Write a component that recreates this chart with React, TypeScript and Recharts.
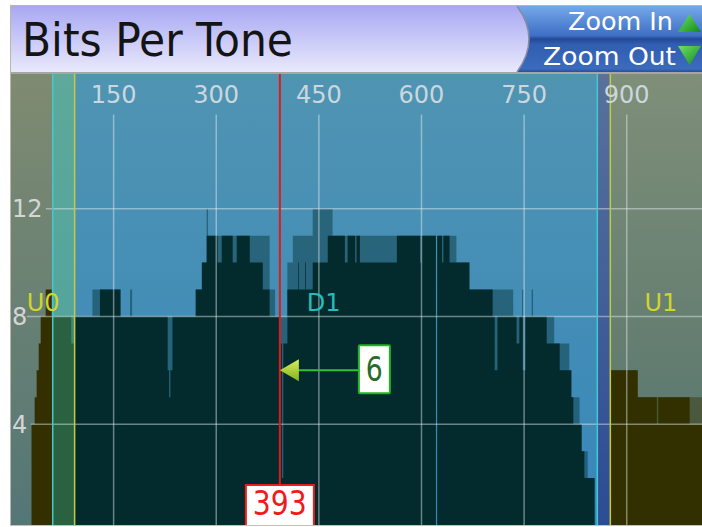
import React from 'react';
import {
  Area,
  ComposedChart,
  ReferenceArea,
  ReferenceDot,
  ReferenceLine,
  XAxis,
  YAxis,
} from 'recharts';

// tone axis / bit axis
const toneTicks = [150, 300, 450, 600, 750, 900];
const bitTicks = [4, 8, 12];

// each entry: [first tone of the step, bits]
const d1Bits: [number, number][] = [
  [61, 8], [88, 7], [93, 8], [130, 9], [160, 8], [229, 6], [231, 5], [233, 6], [236, 8],
  [270, 9], [279, 10], [286, 11], [302, 10], [308, 11], [324, 10], [330, 11], [349, 10],
  [368, 9], [378, 8], [393, 6], [394, 7], [396, 2], [398, 7], [404, 9], [420, 10], [421, 9],
  [430, 10], [431, 9], [441, 10], [463, 11], [488, 10], [492, 11], [503, 10], [505, 11],
  [510, 10], [564, 11], [598, 10], [600, 11], [621, 0], [623, 11], [630, 10], [632, 11],
  [641, 10], [670, 9], [704, 8], [707, 6], [711, 8], [739, 7], [743, 8], [748, 6], [752, 8],
  [783, 7], [802, 6], [819, 5], [822, 4], [834, 3], [838, 2], [853, 0], [857, 0],
];

const d1MaxBits: [number, number][] = [
  [61, 8], [119, 9], [160, 8], [174, 9], [177, 8], [270, 9], [279, 10], [286, 12], [288, 11],
  [378, 9], [386, 8], [404, 10], [412, 11], [441, 12], [470, 11], [621, 0], [623, 11],
  [651, 10], [670, 9], [734, 8], [747, 9], [749, 8], [761, 9], [763, 8], [794, 7], [816, 6],
  [819, 5], [831, 4], [834, 3], [843, 2], [853, 0], [857, 0],
];

const u0Bits: [number, number][] = [
  [30, 4], [34.6, 5], [37.5, 6], [40.5, 7], [43.4, 8], [50.7, 9], [59.5, 8], [61, 8],
];

const u1Bits: [number, number][] = [
  [876, 6], [916, 5], [944, 4], [946, 5], [992, 4], [1010, 4],
];

const u1MaxBits: [number, number][] = [[876, 6], [916, 5], [1010, 5]];

// band edges (tones)
const bandNames = ['U0', 'D1', 'U1'];
const bandLabelTone = [47, 457, 950];
const u0Band = [0, 93];
const d1Band = [61, 857];
const u1Band = [876, 1010];

const cursorTone = 393;
const cursorBits = 6;

const TONE_MAX = 1010;
const BIT_MAX = 17;
const PLOT_W = 691;
const PLOT_H = 458;

const toPoints = (steps: [number, number][]) => steps.map(([tone, bits]) => ({ tone, bits }));

const FONT = '"DejaVu Sans", sans-serif';
const gridStroke = 'rgba(232,240,244,0.45)';

function ToneTick(props: any) {
  const { x, payload } = props;
  return (
    <text x={x} y={29} textAnchor="middle" fontSize={24} fill="#cbd7de" fontFamily={FONT}>
      {payload.value}
    </text>
  );
}

function BitTick(props: any) {
  const { y, payload } = props;
  return (
    <text x={1} y={y} dy="0.36em" textAnchor="start" fontSize={24} fill="#d4d6d6" fontFamily={FONT}>
      {payload.value}
    </text>
  );
}

function BandLabel(props: any) {
  const { cx, cy, name } = props;
  const fill = name === 'D1' ? '#26bcbc' : '#d2d42c';
  return (
    <text x={cx} y={cy} textAnchor="middle" fontSize={24} fill={fill} fontFamily={FONT}>
      {name}
    </text>
  );
}

function BitsMarker(props: any) {
  const { cx, cy } = props;
  return (
    <g>
      <line x1={cx + 16} y1={cy} x2={cx + 80} y2={cy} stroke="#33c233" strokeWidth={2} />
      <polygon
        points={`${cx},${cy} ${cx + 19},${cy - 11} ${cx + 19},${cy + 11}`}
        fill="url(#arrowGrad)"
      />
      <rect x={cx + 79} y={cy - 25} width={31} height={48} fill="#fff" stroke="#22b322" strokeWidth={2} rx={1} />
      <text
        x={cx + 94.5}
        y={cy + 11}
        textAnchor="middle"
        fontSize={33}
        fill="#2b6a2b"
        fontFamily={FONT}
        textLength={17}
        lengthAdjust="spacingAndGlyphs"
      >
        {cursorBits}
      </text>
    </g>
  );
}

function CursorTag(props: any) {
  const { cx, cy } = props;
  return (
    <g>
      <rect x={cx - 34} y={cy - 47} width={68} height={70} fill="#fff" stroke="#e8201c" strokeWidth={2} />
      <text
        x={cx}
        y={cy - 17}
        textAnchor="middle"
        fontSize={34}
        fill="#f01a1a"
        fontFamily={FONT}
        textLength={54}
        lengthAdjust="spacingAndGlyphs"
      >
        {cursorTone}
      </text>
    </g>
  );
}

function Header() {
  return (
    <svg width={702} height={74} style={{ position: 'absolute', left: 0, top: 0 }}>
      <defs>
        <linearGradient id="lavGrad" x1="0" y1="0" x2="0" y2="1">
          <stop offset="0" stopColor="#a8a8f3" />
          <stop offset="1" stopColor="#e9e9fc" />
        </linearGradient>
        <linearGradient id="btnGrad" x1="0" y1="0" x2="0" y2="1">
          <stop offset="0" stopColor="#74a8e8" />
          <stop offset="0.45" stopColor="#3e6fc5" />
          <stop offset="0.5" stopColor="#244896" />
          <stop offset="0.58" stopColor="#305eb0" />
          <stop offset="0.95" stopColor="#3b6bbd" />
          <stop offset="1" stopColor="#2a4f98" />
        </linearGradient>
        <linearGradient id="triGrad" x1="0" y1="0" x2="1" y2="1">
          <stop offset="0" stopColor="#6fe06a" />
          <stop offset="1" stopColor="#128a18" />
        </linearGradient>
      </defs>
      <rect x={10} y={5} width={692} height={69} fill="#a6a6a6" />
      <rect x={505} y={6} width={197} height={66} fill="url(#btnGrad)" />
      <path d="M11 6 H517 Q541 39 517 72 H11 Z" fill="url(#lavGrad)" />
      <path d="M517 6 Q541 39 517 72" fill="none" stroke="#8a8aa6" strokeWidth={1.5} />
      <text
        x={22}
        y={56}
        fontSize={46}
        fill="#141414"
        fontFamily='"DejaVu Sans Condensed", "DejaVu Sans", sans-serif'
        textLength={271}
        lengthAdjust="spacingAndGlyphs"
      >
        Bits Per Tone
      </text>
      <text
        x={568}
        y={30}
        fontSize={25}
        fill="#fff"
        fontFamily={FONT}
        textLength={105}
        lengthAdjust="spacingAndGlyphs"
      >
        Zoom In
      </text>
      <text
        x={543}
        y={65}
        fontSize={25}
        fill="#fff"
        fontFamily={FONT}
        textLength={133}
        lengthAdjust="spacingAndGlyphs"
      >
        Zoom Out
      </text>
      <polygon points="678,32 701,32 689.5,14" fill="url(#triGrad)" />
      <polygon points="678,46 701,46 689.5,65" fill="url(#triGrad)" />
    </svg>
  );
}

export default function App() {
  return (
    <div
      style={{
        position: 'absolute',
        left: 0,
        top: 0,
        width: 702,
        height: 527,
        background: '#fff',
        overflow: 'hidden',
        fontFamily: FONT,
      }}
    >
      <div style={{ position: 'absolute', left: 11, top: 74, width: PLOT_W, height: 451, overflow: 'hidden' }}>
        <ComposedChart width={PLOT_W} height={PLOT_H} margin={{ top: 0, right: 0, bottom: 0, left: 0 }}>
          <defs>
            <linearGradient id="u0Bg" x1="0" y1="0" x2="0" y2="1">
              <stop offset="0" stopColor="#7f8b71" />
              <stop offset="1" stopColor="#537676" />
            </linearGradient>
            <linearGradient id="d1Bg" x1="0" y1="0" x2="0" y2="1">
              <stop offset="0" stopColor="#5094b2" />
              <stop offset="1" stopColor="#3787bb" />
            </linearGradient>
            <linearGradient id="gapBg" x1="0" y1="0" x2="0" y2="1">
              <stop offset="0" stopColor="#58729c" />
              <stop offset="1" stopColor="#2b4b93" />
            </linearGradient>
            <linearGradient id="u1Bg" x1="0" y1="0" x2="0" y2="1">
              <stop offset="0" stopColor="#7f8f79" />
              <stop offset="1" stopColor="#52726b" />
            </linearGradient>
            <linearGradient id="arrowGrad" x1="0" y1="0" x2="0" y2="1">
              <stop offset="0" stopColor="#d8ee5a" />
              <stop offset="1" stopColor="#7fb21e" />
            </linearGradient>
          </defs>

          <XAxis
            type="number"
            dataKey="tone"
            domain={[0, TONE_MAX]}
            ticks={toneTicks}
            orientation="top"
            mirror
            allowDataOverflow
            axisLine={false}
            tickLine={false}
            interval={0}
            tick={<ToneTick />}
          />
          <YAxis
            type="number"
            dataKey="bits"
            domain={[0, BIT_MAX]}
            ticks={bitTicks}
            mirror
            allowDataOverflow
            axisLine={false}
            tickLine={false}
            interval={0}
            tick={<BitTick />}
          />

          {/* band backgrounds */}
          <ReferenceArea x1={u0Band[0]} x2={d1Band[0]} fill="url(#u0Bg)" fillOpacity={1} zIndex={-300} />
          <ReferenceArea x1={d1Band[0]} x2={d1Band[1]} fill="url(#d1Bg)" fillOpacity={1} zIndex={-300} />
          <ReferenceArea x1={d1Band[1]} x2={u1Band[0]} fill="url(#gapBg)" fillOpacity={1} zIndex={-300} />
          <ReferenceArea x1={u1Band[0]} x2={u1Band[1]} fill="url(#u1Bg)" fillOpacity={1} zIndex={-300} />

          {/* bit loading */}
          <Area data={toPoints(d1MaxBits)} dataKey="bits" type="stepAfter" stroke="none" fill="#0a3a40" fillOpacity={0.5} isAnimationActive={false} dot={false} activeDot={false} zIndex={100} />
          <Area data={toPoints(d1Bits)} dataKey="bits" type="stepAfter" stroke="none" fill="#032b2d" fillOpacity={1} isAnimationActive={false} dot={false} activeDot={false} zIndex={101} />
          <Area data={toPoints(u0Bits)} dataKey="bits" type="stepAfter" stroke="none" fill="#332f00" fillOpacity={1} isAnimationActive={false} dot={false} activeDot={false} zIndex={102} />
          <Area data={toPoints(u1MaxBits)} dataKey="bits" type="stepAfter" stroke="none" fill="#333000" fillOpacity={0.45} isAnimationActive={false} dot={false} activeDot={false} zIndex={103} />
          <Area data={toPoints(u1Bits)} dataKey="bits" type="stepAfter" stroke="none" fill="#333000" fillOpacity={1} isAnimationActive={false} dot={false} activeDot={false} zIndex={104} />

          {/* U0 / D1 overlap */}
          <ReferenceArea x1={d1Band[0]} x2={u0Band[1]} fill="rgb(120,212,107)" fillOpacity={0.33} zIndex={150} />

          {/* grid */}
          {toneTicks.map((t) => (
            <ReferenceLine key={`v${t}`} segment={[{ x: t, y: 15.5 }, { x: t, y: 0 }]} stroke={gridStroke} strokeWidth={1.5} zIndex={200} />
          ))}
          <ReferenceLine segment={[{ x: 51, y: 12 }, { x: TONE_MAX, y: 12 }]} stroke={gridStroke} strokeWidth={1.5} zIndex={200} />
          <ReferenceLine segment={[{ x: 23, y: 8 }, { x: TONE_MAX, y: 8 }]} stroke={gridStroke} strokeWidth={1.5} zIndex={200} />
          <ReferenceLine segment={[{ x: 29, y: 4 }, { x: TONE_MAX, y: 4 }]} stroke={gridStroke} strokeWidth={1.5} zIndex={200} />

          {/* band edges */}
          <ReferenceLine x={d1Band[0]} stroke="#3fcad4" strokeWidth={1.5} zIndex={250} />
          <ReferenceLine x={u0Band[1]} stroke="#c4cc3e" strokeWidth={1.5} zIndex={250} />
          <ReferenceLine x={d1Band[1]} stroke="#3fcad4" strokeWidth={1.5} zIndex={250} />
          <ReferenceLine x={u1Band[0]} stroke="#c4cc3e" strokeWidth={1.5} zIndex={250} />

          {bandNames.map((name, i) => (
            <ReferenceDot
              key={name}
              x={bandLabelTone[i]}
              y={8.2}
              r={0}
              zIndex={260}
              shape={(p: any) => <BandLabel {...p} name={name} />}
            />
          ))}

          {/* cursor */}
          <ReferenceLine x={cursorTone} stroke="#e01b1b" strokeWidth={2} zIndex={300} />
          <ReferenceDot x={cursorTone} y={cursorBits} r={0} zIndex={400} shape={(p: any) => <BitsMarker {...p} />} />
          <ReferenceDot x={cursorTone} y={0} r={0} zIndex={400} shape={(p: any) => <CursorTag {...p} />} />
        </ComposedChart>
      </div>
      <Header />
      <div
        style={{
          position: 'absolute',
          left: 10,
          top: 5,
          width: 692,
          height: 521,
          borderLeft: '1px solid #bdb6a8',
          borderTop: '1px solid #bdb6a8',
          borderBottom: '1px solid #c9c2b4',
          boxSizing: 'border-box',
          pointerEvents: 'none',
        }}
      />
    </div>
  );
}
